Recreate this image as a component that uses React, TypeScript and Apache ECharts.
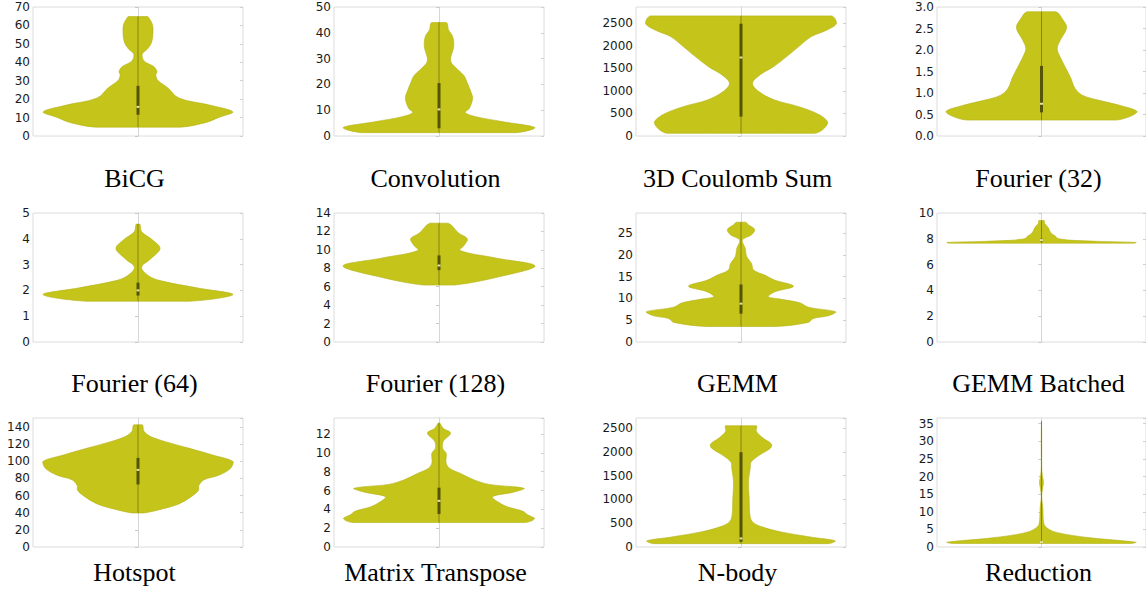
import React, { useEffect, useRef } from "react";
import * as echarts from "echarts";

// ---- Panel titles ----
const titles = [
  "BiCG", "Convolution", "3D Coulomb Sum", "Fourier (32)",
  "Fourier (64)", "Fourier (128)", "GEMM", "GEMM Batched",
  "Hotspot", "Matrix Transpose", "N-body", "Reduction",
];

// ---- Y axis ranges / tick steps ----
const yMaxes = [70, 50, 2860, 3, 5, 14, 29.6, 10, 150.6, 13.7, 2711, 36.6];
const yIntervals = [10, 10, 500, 0.5, 1, 2, 5, 2, 20, 2, 500, 5];
const yDecimals = [0, 0, 0, 1, 0, 0, 0, 0, 0, 0, 0, 0];

// ---- Violin density profiles (value levels and relative half-widths) ----
const bicgLevels = [4.8, 7.2, 10.1, 13, 16.8, 20.6, 26.3, 30.1, 33, 35, 37.7, 40.6, 44.4, 47.2, 51, 56.8, 60.6, 63.5, 64.8];
const bicgWidths = [0.4, 0.64, 0.77, 0.905, 0.68, 0.39, 0.28, 0.19, 0.17, 0.18, 0.15, 0.06, 0.04, 0.09, 0.13, 0.143, 0.137, 0.11, 0.09];

const convLevels = [1.3, 3.2, 5.6, 7.5, 9.1, 10.8, 14.6, 17.5, 20.5, 23.3, 25.7, 28.2, 30, 34.7, 38.6, 41.2, 44];
const convWidths = [0.73, 0.915, 0.6, 0.35, 0.25, 0.29, 0.32, 0.3, 0.27, 0.24, 0.18, 0.12, 0.11, 0.14, 0.13, 0.09, 0.07];

const coulLevels = [59, 281, 466, 651, 799, 984, 1169, 1354, 1538, 1760, 1982, 2204, 2352, 2500, 2663];
const coulWidths = [0.7, 0.825, 0.75, 0.55, 0.32, 0.17, 0.11, 0.18, 0.31, 0.435, 0.55, 0.67, 0.82, 0.91, 0.86];

const f32Levels = [0.37, 0.563, 0.71, 0.83, 0.95, 1.11, 1.35, 1.59, 1.83, 2.03, 2.23, 2.52, 2.72, 2.89];
const f32Widths = [0.71, 0.915, 0.755, 0.55, 0.39, 0.32, 0.28, 0.23, 0.18, 0.15, 0.18, 0.24, 0.2, 0.137];

const f64Levels = [1.58, 1.84, 2.1, 2.37, 2.57, 2.9, 3.22, 3.62, 3.95, 4.28, 4.57];
const f64Widths = [0.49, 0.905, 0.56, 0.22, 0.1, 0.034, 0.12, 0.21, 0.14, 0.034, 0.017];

const f128Levels = [6.18, 7.1, 8.25, 9.1, 9.93, 10.5, 11.2, 11.8, 12.9];
const f128Widths = [0.15, 0.58, 0.915, 0.55, 0.2, 0.24, 0.27, 0.19, 0.086];

const gemmLevels = [3.56, 4.5, 5.4, 6.0, 6.9, 8.0, 9.0, 9.9, 10.4, 11.5, 12.8, 14.2, 15.3, 16.5, 18, 19.6, 21.5, 23.4, 24.6, 25.8, 26.9, 27.5];
const gemmWidths = [0.33, 0.64, 0.69, 0.83, 0.905, 0.64, 0.56, 0.36, 0.26, 0.32, 0.5, 0.32, 0.23, 0.12, 0.1, 0.054, 0.04, 0.013, 0.1, 0.13, 0.07, 0.044];

const gemmBLevels = [7.66, 7.72, 7.8, 7.88, 7.96, 8.05, 8.2, 8.45, 8.85, 9.2, 9.42];
const gemmBWidths = [0.88, 0.907, 0.55, 0.3, 0.2, 0.15, 0.135, 0.09, 0.065, 0.03, 0.025];

const hotLevels = [39.7, 44.4, 50.3, 58.2, 66, 72, 78.6, 83.8, 91.6, 99.5, 107.4, 115.2, 123, 129, 135, 142.7];
const hotWidths = [0.057, 0.23, 0.39, 0.5, 0.575, 0.58, 0.63, 0.77, 0.88, 0.908, 0.71, 0.49, 0.26, 0.12, 0.057, 0.04];

const mtLevels = [2.6, 3.02, 3.45, 3.8, 4.27, 4.8, 5.34, 5.8, 6.23, 6.65, 7.1, 7.83, 8.36, 8.9, 9.43, 9.96, 10.5, 11.2, 12.1, 12.6, 13.17];
const mtWidths = [0.82, 0.91, 0.84, 0.8, 0.65, 0.56, 0.51, 0.7, 0.81, 0.48, 0.34, 0.2, 0.1, 0.068, 0.068, 0.068, 0.034, 0.04, 0.11, 0.04, 0.007];

const nbLevels = [70, 127, 211, 317, 423, 528, 669, 1021, 1373, 1655, 1782, 1937, 2077, 2162, 2289, 2430, 2549];
const nbWidths = [0.83, 0.9, 0.66, 0.38, 0.2, 0.11, 0.085, 0.078, 0.071, 0.088, 0.095, 0.18, 0.28, 0.29, 0.21, 0.146, 0.146];

const redLevels = [1.0, 1.34, 2.6, 3.5, 4.5, 5.5, 6.4, 8.3, 11.2, 13.1, 14.6, 16.5, 18.4, 20.3, 22.7, 27.5, 32.3, 35.7];
const redWidths = [0.85, 0.907, 0.47, 0.25, 0.105, 0.048, 0.025, 0.016, 0.013, 0.005, 0.002, 0.01, 0.019, 0.008, 0.002, 0.002, 0.002, 0.0];

// ---- Box stats: [min, q1, median, q3, max] ----
const bicgBox = [4.8, 11.5, 15.8, 27.2, 64.8];
const convBox = [1.3, 3, 10.3, 20.5, 44];
const coulBox = [59, 430, 1740, 2490, 2663];
const f32Box = [0.37, 0.55, 0.75, 1.63, 2.89];
const f64Box = [1.58, 1.8, 2.0, 2.3, 4.57];
const f128Box = [6.18, 7.8, 8.3, 9.4, 12.9];
const gemmBox = [3.56, 6.5, 8.8, 13.2, 27.5];
const gemmBBox = [7.66, 7.8, 7.9, 8.0, 9.42];
const hotBox = [39.7, 73, 90, 104, 142.7];
const mtBox = [2.6, 3.5, 4.9, 6.3, 13.17];
const nbBox = [70, 110, 180, 1993, 2549];
const redBox = [1.0, 1.2, 1.4, 1.7, 35.7];

const levels = [bicgLevels, convLevels, coulLevels, f32Levels, f64Levels, f128Levels, gemmLevels, gemmBLevels, hotLevels, mtLevels, nbLevels, redLevels];
const widths = [bicgWidths, convWidths, coulWidths, f32Widths, f64Widths, f128Widths, gemmWidths, gemmBWidths, hotWidths, mtWidths, nbWidths, redWidths];
const boxes = [bicgBox, convBox, coulBox, f32Box, f64Box, f128Box, gemmBox, gemmBBox, hotBox, mtBox, nbBox, redBox];

// ---- Layout ----
const colLefts = [33, 334, 636, 937];
const rowTops = [7, 213, 418];
const plotW = 210;
const plotH = 129;
const titleYs = [178, 383, 572];

const FILL = "#c5c41a";
const EDGE = "#b3b216";
const WHISKER = "#86850f";
const BOXC = "#555406";
const MEDC = "#e4e3a0";

export default function App() {
  const ref = useRef<HTMLDivElement>(null);
  useEffect(() => {
    if (!ref.current) return;
    const chart = echarts.init(ref.current, undefined, { renderer: "svg" });
    const grids: any[] = [];
    const xAxes: any[] = [];
    const yAxes: any[] = [];
    const rightAxes: any[] = [];
    const series: any[] = [];
    const graphics: any[] = [];
    titles.forEach((t, i) => {
      const r = Math.floor(i / 4);
      const c = i % 4;
      grids.push({
        left: colLefts[c], top: rowTops[r], width: plotW, height: plotH,
        show: true, borderColor: "#dcdcdc", borderWidth: 1, backgroundColor: "#fff",
      });
      xAxes.push({ gridIndex: i, type: "value", min: -1, max: 1, show: false });
      const mx = yMaxes[i], iv = yIntervals[i];
      const isMultiple = Math.abs(mx / iv - Math.round(mx / iv)) < 1e-6;
      const dec = yDecimals[i];
      yAxes.push({
        gridIndex: i, type: "value", min: 0, max: mx, interval: iv, position: "left",
        axisLine: { show: true, lineStyle: { color: "#d6d6d6", width: 1 } },
        axisTick: { show: true, length: 3, lineStyle: { color: "#c8c8c8" } },
        splitLine: { show: false },
        axisLabel: {
          show: true, margin: 3, showMaxLabel: isMultiple, showMinLabel: true,
          fontFamily: "DejaVu Sans", fontSize: 12, color: "#1a1a1a",
          formatter: (v: number) => (dec ? v.toFixed(dec) : String(Math.round(v))),
        },
      });
      rightAxes.push({
        gridIndex: i, type: "value", min: 0, max: mx, interval: iv, position: "right",
        axisLine: { show: false },
        axisTick: { show: true, inside: true, length: 3, lineStyle: { color: "#d0d0d0" } },
        axisLabel: { show: false },
        splitLine: { show: false },
      });
      const lv = levels[i], wd = widths[i], bx = boxes[i];
      series.push({
        type: "custom",
        xAxisIndex: i,
        yAxisIndex: i,
        data: [[0, bx[2]]],
        renderItem: (params: any, api: any) => {
          const pts: number[][] = [];
          for (let j = 0; j < lv.length; j++) pts.push(api.coord([wd[j], lv[j]]));
          for (let j = lv.length - 1; j >= 0; j--) pts.push(api.coord([-wd[j], lv[j]]));
          const xs = pts.map((p) => p[0]);
          const ys = pts.map((p) => p[1]);
          const cMin = [Math.min(...xs), Math.min(...ys)];
          const cMax = [Math.max(...xs), Math.max(...ys)];
          const pMin = api.coord([0, bx[0]]);
          const pQ1 = api.coord([0, bx[1]]);
          const pMed = api.coord([0, bx[2]]);
          const pQ3 = api.coord([0, bx[3]]);
          const pMax = api.coord([0, bx[4]]);
          return {
            type: "group",
            children: [
              {
                type: "polygon",
                shape: { points: pts, smooth: 0.35, smoothConstraint: [cMin, cMax] },
                style: { fill: FILL, stroke: EDGE, lineWidth: 0.6 },
              },
              {
                type: "line",
                shape: { x1: pMin[0], y1: pMin[1], x2: pMax[0], y2: pMax[1] },
                style: { stroke: WHISKER, lineWidth: 1 },
              },
              {
                type: "rect",
                shape: { x: pQ3[0] - 1.5, y: pQ3[1], width: 3, height: Math.max(1, pQ1[1] - pQ3[1]) },
                style: { fill: BOXC },
              },
              {
                type: "rect",
                shape: { x: pMed[0] - 1.5, y: pMed[1] - 1, width: 3, height: 2 },
                style: { fill: MEDC },
              },
            ],
          };
        },
      });
      graphics.push({
        type: "text",
        x: colLefts[c] + plotW / 2 - 3.5,
        y: titleYs[r],
        style: {
          text: t,
          font: '26px "Liberation Serif", "Times New Roman", serif',
          fill: "#000",
          textAlign: "center",
          textVerticalAlign: "middle",
        },
      });
    });
    rightAxes.forEach((a) => yAxes.push(a));
    chart.setOption({
      animation: false,
      backgroundColor: "#fff",
      grid: grids,
      xAxis: xAxes,
      yAxis: yAxes,
      series,
      graphic: graphics,
    });
    return () => chart.dispose();
  }, []);
  return (
    <div
      ref={ref}
      style={{ position: "fixed", left: 0, top: 0, width: 1146, height: 592, background: "#fff" }}
    />
  );
}
